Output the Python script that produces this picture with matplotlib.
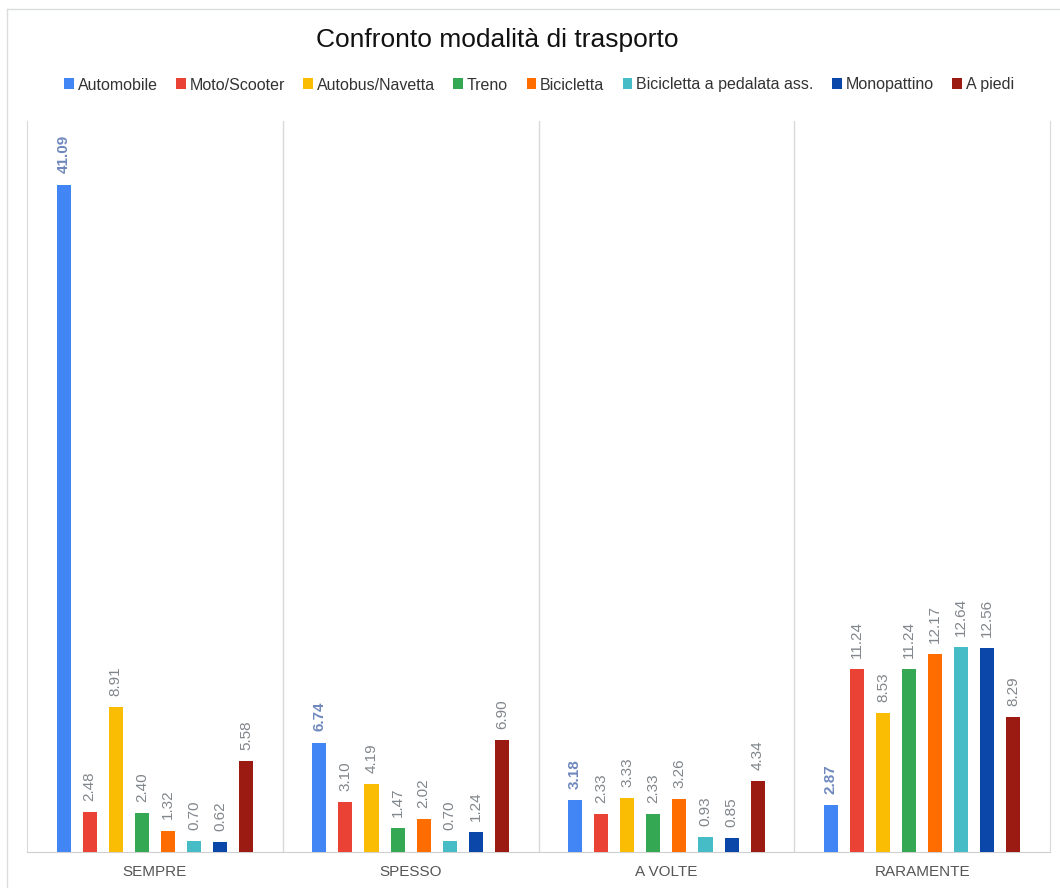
import matplotlib.pyplot as plt
from matplotlib.patches import Patch
from matplotlib.lines import Line2D
import numpy as np

plt.rcParams['font.family'] = ['Liberation Sans', 'DejaVu Sans']

# dati
categorie = ["SEMPRE", "SPESSO", "A VOLTE", "RARAMENTE"]
serie = ["Automobile", "Moto/Scooter", "Autobus/Navetta", "Treno", "Bicicletta",
         "Bicicletta a pedalata ass.", "Monopattino", "A piedi"]
automobile = [41.09, 6.74, 3.18, 2.87]
moto = [2.48, 3.10, 2.33, 11.24]
autobus = [8.91, 4.19, 3.33, 8.53]
treno = [2.40, 1.47, 2.33, 11.24]
bicicletta = [1.32, 2.02, 3.26, 12.17]
bici_assistita = [0.70, 0.70, 0.93, 12.64]
monopattino = [0.62, 1.24, 0.85, 12.56]
a_piedi = [5.58, 6.90, 4.34, 8.29]
valori = [automobile, moto, autobus, treno, bicicletta, bici_assistita, monopattino, a_piedi]
colori = ["#4285F4", "#EA4335", "#FBBC04", "#34A853", "#FF6D01", "#46BDC6", "#0B47A9", "#9B1B12"]

fig = plt.figure(figsize=(10.6, 8.88), dpi=100)
ax = fig.add_axes([27/1060, 36/888, 1023/1060, 731/888])

x = np.arange(len(categorie))
passo = 0.102
larg = 0.055
for i, (nome, vals, col) in enumerate(zip(serie, valori, colori)):
    pos = x + (i - 3.5) * passo
    ax.bar(pos, vals, width=larg, color=col, label=nome, zorder=3)
    for p, v in zip(pos, vals):
        if i == 0:
            ax.annotate(f"{v:.2f}", (p, v), xytext=(0, 8), textcoords='offset points',
                        rotation=90, ha='center', va='bottom', fontsize=11,
                        color='#6f88bd', fontweight='bold')
        else:
            ax.annotate(f"{v:.2f}", (p, v), xytext=(0, 8), textcoords='offset points',
                        rotation=90, ha='center', va='bottom', fontsize=11,
                        color='#80868b')

ax.set_xlim(-0.5, 3.5)
ax.set_ylim(0, 45)
ax.set_yticks([])
ax.set_xticks(x)
ax.set_xticklabels(categorie, fontsize=11, color='#555555')
ax.tick_params(axis='x', length=0, pad=9)
for s in ['left', 'right']:
    ax.spines[s].set_color('#d9d9d9')
ax.spines['top'].set_visible(False)
ax.spines['bottom'].set_color('#cfcfcf')
for g in [0.5, 1.5, 2.5]:
    ax.axvline(g, color='#d9d9d9', lw=1, zorder=1)

fig.text(497/1060, 1 - 40/888, "Confronto modalità di trasporto", ha='center', va='center',
         fontsize=19, color='#111111')

handles = [Patch(facecolor=c, edgecolor='none') for c in colori]
fig.legend(handles, serie, loc='center', bbox_to_anchor=(539/1060, 1 - 85/888), ncol=8,
           frameon=False, fontsize=11.5, handlelength=0.6, handleheight=0.7,
           handletextpad=0.25, columnspacing=1.15, labelcolor='#333333')

# cornice
fig.add_artist(Line2D([7/1060, 1], [1 - 9/888, 1 - 9/888], color='#dadce0', lw=1))
fig.add_artist(Line2D([7/1060, 7/1060], [0, 1 - 9/888], color='#dadce0', lw=1))

fig.savefig("out.png", dpi=100)
